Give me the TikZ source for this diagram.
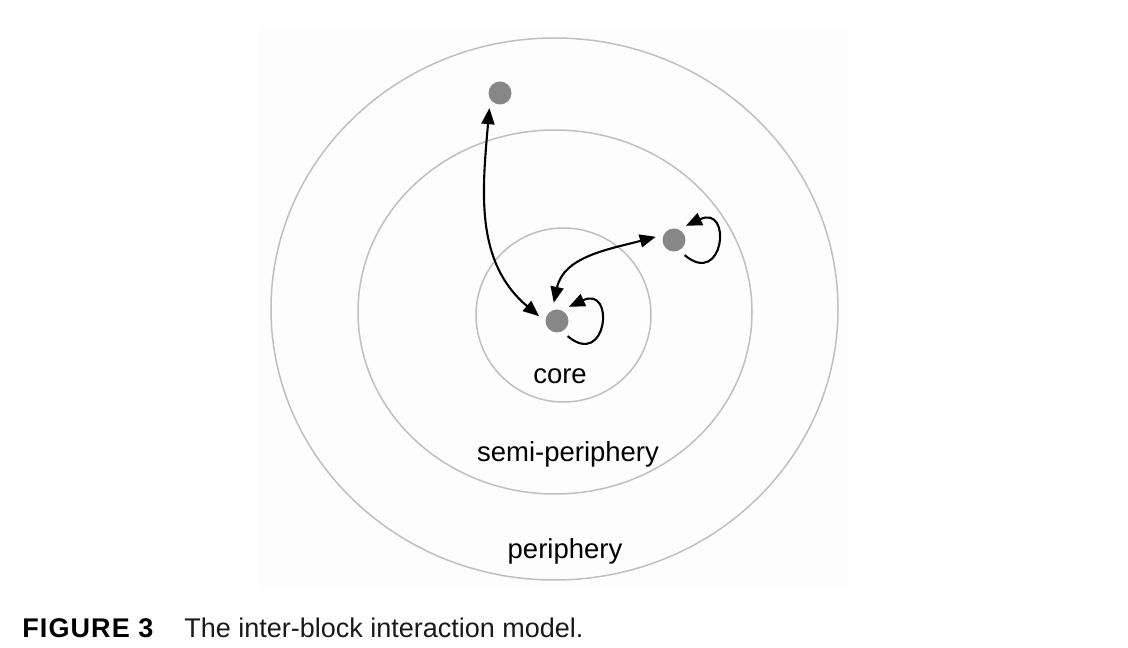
\documentclass[tikz,border=0pt]{standalone}
\usepackage{fontspec}
\setmainfont{Liberation Sans}
\usetikzlibrary{arrows.meta}

\begin{document}
\begin{tikzpicture}[x=1pt,y=1pt,>={Triangle[length=16pt,width=13pt]},
  line width=2.1pt,
  block/.style={circle,fill=black!47,minimum size=23pt,inner sep=0pt,outer sep=7pt},
  ring/.style={draw=black!25,line width=1.5pt},
  zone/.style={font=\fontsize{27.5}{30}\selectfont}]

\useasboundingbox (0,0) rectangle (1128,648);
\fill[black!0.8] (258,60) rectangle (849,620);

% the three zones
\draw[ring] (554.5,339) ellipse [x radius=283.5,y radius=271];
\draw[ring] (555,336) ellipse [x radius=197,y radius=182];
\draw[ring] (563.5,333) ellipse [x radius=87.5,y radius=87];

\node[zone](core lbl) at (560,272) {core};
\node[zone](semi lbl) at (568,194) {semi-periphery};
\node[zone](peri lbl) at (565,97) {periphery};

% blocks
\node[block](P) at (500,555) {};
\node[block](C) at (557,327) {};
\node[block](S) at (674,408) {};

\path
(P.235) edge[<->,out=-95,in=140] (C.165)
(C.100) edge[<->,out=78,in=195] (S.170)
(C.-55) edge[->,out=-40,in=25,looseness=4.5] (C.50)
(S.-55) edge[->,out=-40,in=25,looseness=4.5] (S.50);

% caption
\node[anchor=base west,font=\fontsize{27}{30}\selectfont\bfseries\addfontfeature{LetterSpace=4}](fig) at (18,10) {FIGURE 3};
\node[anchor=base west,font=\fontsize{27}{30}\selectfont,text=black!90](cap) at (180,10) {The inter-block interaction model.};

\end{tikzpicture}
\end{document}
